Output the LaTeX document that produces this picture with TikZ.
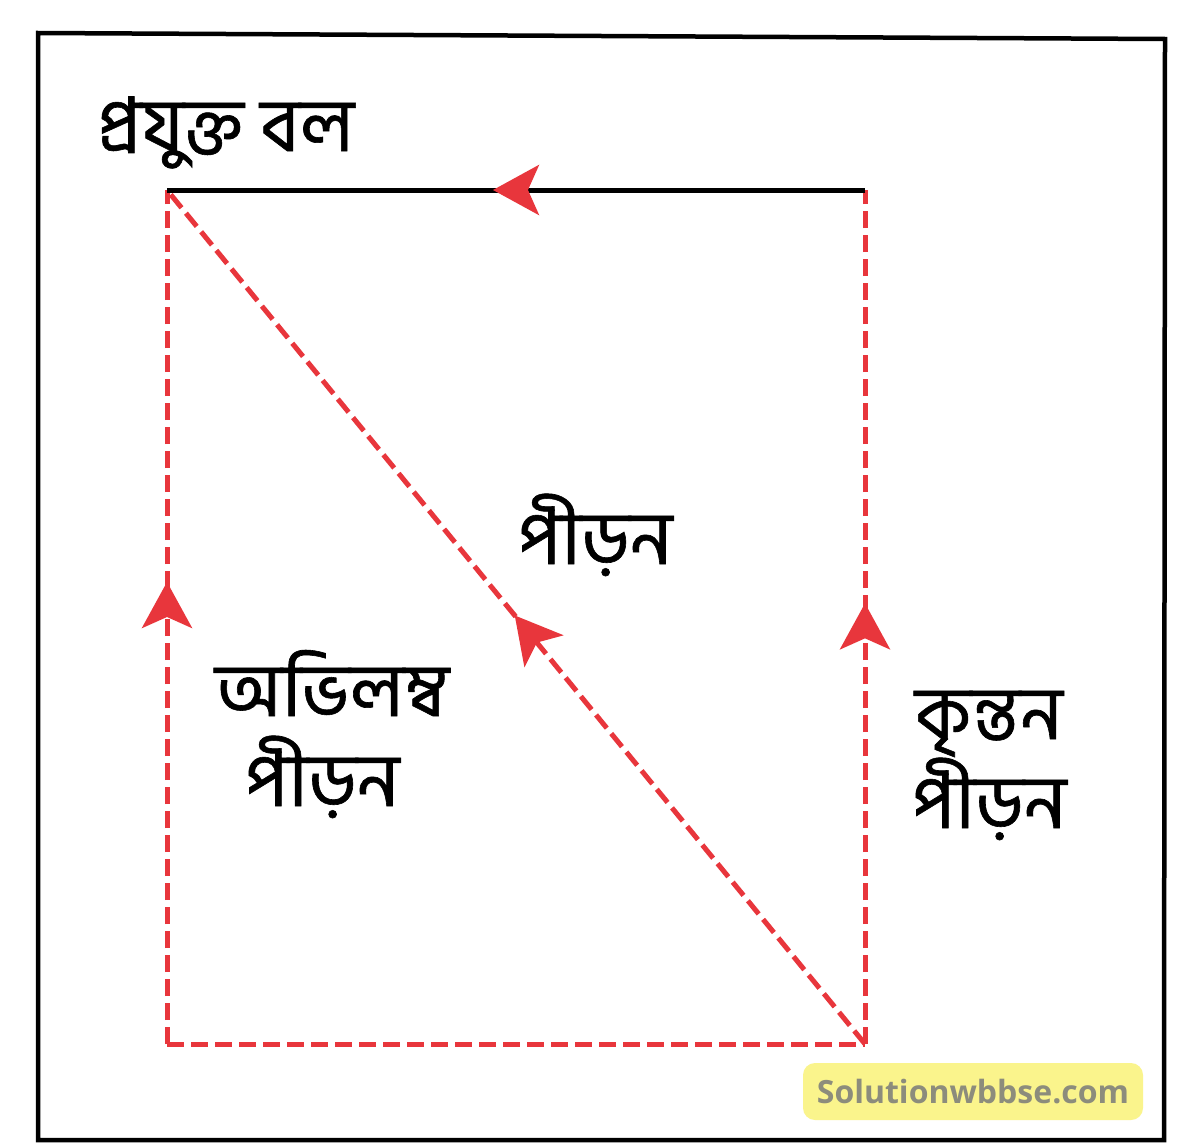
\documentclass[tikz,border=0pt]{standalone}
\usepackage{fontspec}
\newfontfamily\bn[Script=Bengali,FakeBold=0.8]{Hind Siliguri}
\newfontfamily\wm{Open Sans}
\usetikzlibrary{arrows.meta,decorations.markings}
\definecolor{rd}{HTML}{E8363C}
\definecolor{wmyellow}{HTML}{FAF48C}
\definecolor{wmgray}{HTML}{8C8C7C}
\tikzset{
  frame/.style={line width=4.5pt, black, line join=miter},
  redline/.style={line width=5pt, rd, dash pattern=on 17pt off 7pt},
  topline/.style={line width=5pt, black},
  arrowat/.style={postaction={decorate, decoration={markings,
      mark=at position #1 with {\arrow[rd]{Stealth[length=46pt,width=50pt,inset=11pt]}}}}},
  lbl/.style={font=\bn\fontsize{75}{82}\selectfont, anchor=base west, inner sep=0pt},
}
\begin{document}
\begin{tikzpicture}[x=1pt,y=-1pt]
\useasboundingbox (0,0) rectangle (1200,1143);
\fill[white] (0,0) rectangle (1200,1143);
\draw[frame] (38,33) -- (1165,39) -- (1164,1140) -- (38,1140) -- cycle;
\coordinate (TL) at (167,190);
\coordinate (TR) at (865,190);
\coordinate (BL) at (167,1044);
\coordinate (BR) at (865,1044);
\draw[redline] (BL) -- (BR);
\draw[redline, arrowat=0.541] (BL) -- (TL);
\draw[redline, arrowat=0.516] (BR) -- (TR);
\draw[redline, arrowat=0.502] (BR) -- (TL);
\draw[topline, arrowat=0.533] (TR) -- (TL);
\node[lbl] (applied) at (97,151) {প্রযুক্ত বল};
\node[lbl] (stress) at (518,564) {পীড়ন};
\node[lbl] (normal1) at (215,716) {অভিলম্ব};
\node[lbl] (normal2) at (245,806) {পীড়ন};
\node[lbl] (shear1) at (915,739) {কৃন্তন};
\node[lbl] (shear2) at (912,828) {পীড়ন};
\node[fill=wmyellow, rounded corners=12pt, minimum width=340pt, minimum height=57pt, inner sep=0pt,
      font=\wm\bfseries\fontsize{32}{36}\selectfont, text=wmgray] (wmark) at (973,1091.5) {Solutionwbbse.com};
\end{tikzpicture}
\end{document}
